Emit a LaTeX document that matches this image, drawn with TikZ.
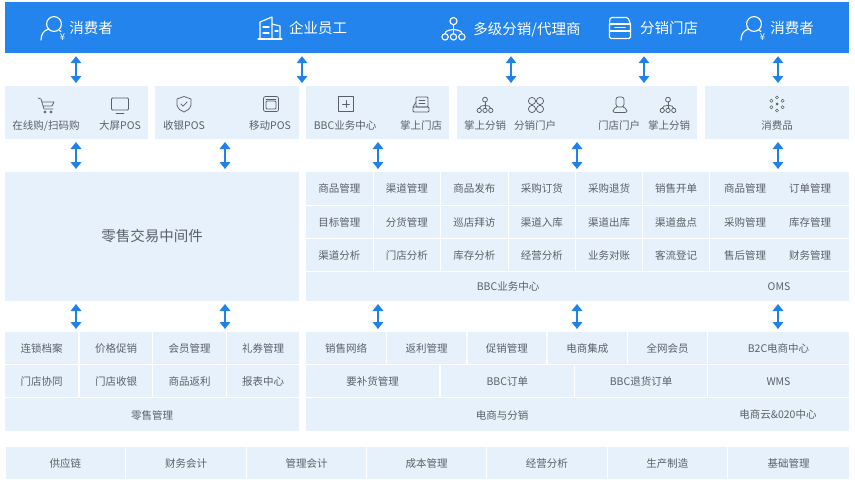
\documentclass[tikz,border=0pt]{standalone}
\usepackage{fontspec}
\setmainfont{Noto Sans CJK SC}
\usetikzlibrary{arrows.meta}
\definecolor{barblue}{HTML}{2484EE}
\definecolor{cellblue}{HTML}{E6F1FC}
\definecolor{txtgray}{HTML}{5A6069}
\definecolor{arrblue}{HTML}{1F82EC}
\tikzset{
  x=1pt,y=-1pt,
  cellbox/.style={fill=cellblue,draw=none,inner sep=0pt,outer sep=0pt,align=center,text=txtgray,font=\fontsize{10.5}{12}\selectfont,text height=9.6pt,text depth=.4pt},
  lbl/.style={inner sep=0pt,text=txtgray,font=\fontsize{10.5}{12}\selectfont,text height=9.6pt,text depth=.4pt},
  hlbl/.style={inner sep=0pt,text=white,font=\fontsize{14.5}{17}\selectfont,text height=12pt,text depth=2pt},
  biarrow/.style={line width=2.6pt,arrblue,{Triangle[length=7pt,width=10.5pt]}-{Triangle[length=7pt,width=10.5pt]},shorten >=3pt,shorten <=3pt},
  wicon/.style={draw=white,line width=1.15pt,fill=none,line cap=round,line join=round},
  gicon/.style={draw=txtgray,line width=.75pt,fill=none,line cap=round,line join=round},
}
\newcommand{\cell}[6]{\node[cellbox,minimum width={(#4-#2)*1pt},minimum height={(#5-#3)*1pt}] (#1) at ({(#2+#4)/2},{(#3+#5)/2}) {#6};}
\newcommand{\treeicon}[3]{\begin{scope}[shift={(#1,#2)},scale=#3]
  \draw (0,-7.5) circle (3.4);
  \draw (0,-4) -- (0,4.5);
  \draw (-8,4.5) .. controls (-8,1.5) and (-4,1) .. (0,0.5) .. controls (4,1) and (8,1.5) .. (8,4.5);
  \draw (-8,7.5) circle (3) (0,7.5) circle (3) (8,7.5) circle (3);
\end{scope}}
\newcommand{\personicon}[2]{\begin{scope}[shift={(#1,#2)}]
  \draw (2,-5) circle (7.4);
  \draw (-11,11) .. controls (-11,5) and (-8,1.5) .. (-3.5,0);
  \draw (7,1.2) -- (9,2.5);
  \node[inner sep=0pt,text=white,font=\fontsize{9.5}{9.5}\selectfont] at (10.5,8.5) {¥};
\end{scope}}
\begin{document}
\begin{tikzpicture}
\useasboundingbox (0,0) rectangle (855,485);
\fill[white] (0,0) rectangle (855,485);
% top bar
\node[fill=barblue,inner sep=0pt,minimum width=844pt,minimum height=51pt] (bar) at (427,27.5) {};
\node[hlbl] (h1) at (91,28) {消费者};
\node[hlbl] (h2) at (318,28) {企业员工};
\node[hlbl] (h3) at (527,29) {多级分销/代理商};
\node[hlbl] (h4) at (669,28) {分销门店};
\node[hlbl] (h5) at (792,28) {消费者};
% header icons
\begin{scope}[wicon]
  \personicon{52}{29}
  \personicon{752}{29}
  \begin{scope}[shift={(270,28)}]
    \draw (-12,11) -- (12,11);
    \draw (-10,11) -- (-10,-6) -- (2,-11) -- (2,11);
    \draw (2,-4) -- (10,-2) -- (10,11);
    \draw (-7,-1) -- (-1,-1) (-7,5) -- (-1,5) (5,3) -- (8,3);
  \end{scope}
  \treeicon{453.5}{29}{1.05}
  \begin{scope}[shift={(620,28)}]
    \draw[rounded corners=1.5pt] (-10,-10.5) -- (8,-10.5) -- (10.5,-4) -- (10.5,10.5) -- (-10.5,10.5) -- (-10.5,-4) -- cycle;
    \draw (-10.5,-4) -- (10.5,-4) (-10.5,3) -- (10.5,3);
    \draw (-5,-0.5) -- (5,-0.5);
  \end{scope}
\end{scope}
% second row
\cell{r1}{5}{86}{148}{139}{}
\cell{r2}{155}{86}{299}{139}{}
\cell{r3}{306}{86}{449}{139}{}
\cell{r4}{457}{86}{697}{139}{}
\cell{r5}{705}{86}{849}{139}{}
\node[lbl] (t1) at (46,125) {在线购/扫码购};
\node[lbl] (t2) at (120,125) {大屏POS};
\node[lbl] (t3) at (184,125) {收银POS};
\node[lbl] (t4) at (270,125) {移动POS};
\node[lbl] (t5) at (345,125) {BBC业务中心};
\node[lbl] (t6) at (421,125) {掌上门店};
\node[lbl] (t7) at (485,125) {掌上分销};
\node[lbl] (t8) at (535,125) {分销门户};
\node[lbl] (t9) at (619,125) {门店门户};
\node[lbl] (t10) at (669,125) {掌上分销};
\node[lbl] (t11) at (777,125) {消费品};
% second row icons
\begin{scope}[gicon]
  \begin{scope}[shift={(46,105)}]
    \draw (-8,-7) -- (-5,-6) -- (-2,4) -- (7,4);
    \draw (-4,-3) -- (8,-3) -- (6,1) -- (-3,1);
    \draw (-1,7) circle (1.1) (5,7) circle (1.1);
  \end{scope}
  \begin{scope}[shift={(120,105)}]
    \draw[rounded corners=1pt] (-8.5,-7) rectangle (8.5,5);
    \draw (-4,8) -- (4,8);
  \end{scope}
  \begin{scope}[shift={(184,104)}]
    \draw (0,-7.5) -- (7,-5) -- (7,1) .. controls (6,5) and (3,7) .. (0,8) .. controls (-3,7) and (-6,5) .. (-7,1) -- (-7,-5) -- cycle;
    \draw (-3,0) -- (-1,2.2) -- (3,-2);
  \end{scope}
  \begin{scope}[shift={(271,104)}]
    \draw[rounded corners=2pt] (-7.5,-7.5) rectangle (7.5,7.5);
    \draw[rounded corners=1pt] (-5,-3) rectangle (5,5);
    \draw (-5,-5) -- (5,-5);
  \end{scope}
  \begin{scope}[shift={(346,104)}]
    \draw (-7.5,-7.5) rectangle (7.5,7.5);
    \draw (-3.5,0) -- (3.5,0) (0,-3.5) -- (0,3.5);
  \end{scope}
  \begin{scope}[shift={(421,105)}]
    \draw[rounded corners=1pt] (-5,-8) rectangle (7,2);
    \draw (-2,-5) -- (4,-5) (-2,-2) -- (4,-2);
    \draw[rounded corners=1pt] (-8,2) rectangle (8,7);
    \draw (-8,2) -- (-5,-3);
  \end{scope}
  \treeicon{485}{105}{.72}
  \begin{scope}[shift={(536,105)}]
    \draw (-4,-4) circle (3.6) (4,-4) circle (3.6) (-4,4) circle (3.6) (4,4) circle (3.6);
  \end{scope}
  \begin{scope}[shift={(620,105)}]
    \draw[rounded corners=2.5pt] (-4,-8) rectangle (4,2);
    \draw[rounded corners=2pt] (-3,2) -- (-7,4) -- (-7,7.5) -- (7,7.5) -- (7,4) -- (3,2);
  \end{scope}
  \treeicon{668}{105}{.72}
  \begin{scope}[shift={(777,104)}]
    \fill[txtgray] (0,0) circle (1.5);
    \foreach \a in {30,90,150,210,270,330}{
      \draw[line width=.5pt] (\a:6.5) circle (1.6);
    }
  \end{scope}
\end{scope}
% middleware
\cell{mid}{5}{172}{299}{301}{\raisebox{-.5pt}{\fontsize{14.5}{17}\selectfont 零售交易中间件}}
% grid
\cell{g11}{306}{172}{372.5}{204.5}{商品管理}
\cell{g12}{373.5}{172}{440}{204.5}{渠道管理}
\cell{g13}{441}{172}{507.5}{204.5}{商品发布}
\cell{g14}{508.5}{172}{575}{204.5}{采购订货}
\cell{g15}{576}{172}{642}{204.5}{采购退货}
\cell{g16}{643}{172}{709}{204.5}{销售开单}
\cell{g17}{710}{172}{849}{204.5}{}
\cell{g21}{306}{205.5}{372.5}{237.5}{目标管理}
\cell{g22}{373.5}{205.5}{440}{237.5}{分货管理}
\cell{g23}{441}{205.5}{507.5}{237.5}{巡店拜访}
\cell{g24}{508.5}{205.5}{575}{237.5}{渠道入库}
\cell{g25}{576}{205.5}{642}{237.5}{渠道出库}
\cell{g26}{643}{205.5}{709}{237.5}{渠道盘点}
\cell{g27}{710}{205.5}{849}{237.5}{}
\cell{g31}{306}{238.5}{372.5}{270.5}{渠道分析}
\cell{g32}{373.5}{238.5}{440}{270.5}{门店分析}
\cell{g33}{441}{238.5}{507.5}{270.5}{库存分析}
\cell{g34}{508.5}{238.5}{575}{270.5}{经营分析}
\cell{g35}{576}{238.5}{642}{270.5}{业务对账}
\cell{g36}{643}{238.5}{709}{270.5}{客流登记}
\cell{g37}{710}{238.5}{849}{270.5}{}
\cell{g4}{306}{271.5}{849}{301}{}
\node[lbl] (l1) at (745,188.25) {商品管理};
\node[lbl] (l2) at (810,188.25) {订单管理};
\node[lbl] (l3) at (745,221.5) {采购管理};
\node[lbl] (l4) at (810,221.5) {库存管理};
\node[lbl] (l5) at (745,254.5) {售后管理};
\node[lbl] (l6) at (810,254.5) {财务管理};
\node[lbl] (l7) at (508,286) {BBC业务中心};
\node[lbl] (l8) at (779,286) {OMS};
% lower left
\cell{a1}{5}{332}{78}{364}{连锁档案}
\cell{a2}{80}{332}{152}{364}{价格促销}
\cell{a3}{153}{332}{226}{364}{会员管理}
\cell{a4}{227}{332}{299}{364}{礼券管理}
\cell{b1}{5}{365}{78}{397}{门店协同}
\cell{b2}{80}{365}{152}{397}{门店收银}
\cell{b3}{153}{365}{226}{397}{商品返利}
\cell{b4}{227}{365}{299}{397}{报表中心}
\cell{c1}{5}{398}{299}{431}{零售管理}
% lower right
\cell{d1}{306}{332}{386}{364}{销售网络}
\cell{d2}{387}{332}{466}{364}{返利管理}
\cell{d3}{467.5}{332}{546}{364}{促销管理}
\cell{d4}{547.5}{332}{627}{364}{电商集成}
\cell{d5}{628}{332}{707}{364}{全网会员}
\cell{d6}{708}{332}{849}{364}{B2C电商中心}
\cell{e1}{306}{365}{439}{397}{要补货管理}
\cell{e2}{441}{365}{573.5}{397}{BBC订单}
\cell{e3}{575}{365}{707}{397}{BBC退货订单}
\cell{e4}{708}{365}{849}{397}{WMS}
\cell{f1}{306}{398}{849}{431}{}
\node[lbl] (f2) at (502,414.5) {电商与分销};
\node[lbl] (f3) at (778,414) {电商云\&020中心};
% bottom strip
\cell{s1}{5.5}{447}{125}{479}{供应链}
\cell{s2}{126}{447}{246}{479}{财务会计}
\cell{s3}{247}{447}{366}{479}{管理会计}
\cell{s4}{367}{447}{486}{479}{成本管理}
\cell{s5}{487}{447}{606.5}{479}{经营分析}
\cell{s6}{607.5}{447}{727}{479}{生产制造}
\cell{s7}{728}{447}{849}{479}{基础管理}
% arrows
\foreach \xx/\lower in {76/r1,302/r3,511/r4,644/r4,778/r5}
  \draw[biarrow] (bar.south -| \xx,0) -- (\lower.north -| \xx,0);
\draw[biarrow] (r1.south -| 76,0) -- (mid.north -| 76,0);
\draw[biarrow] (r2.south -| 225,0) -- (mid.north -| 225,0);
\draw[biarrow] (r3.south -| 378,0) -- (g12.north -| 378,0);
\draw[biarrow] (r4.south -| 577,0) -- (g15.north -| 577,0);
\draw[biarrow] (r5.south -| 778,0) -- (g17.north -| 778,0);
\draw[biarrow] (mid.south -| 76,0) -- (a1.north -| 76,0);
\draw[biarrow] (mid.south -| 225,0) -- (a4.north -| 225,0);
\draw[biarrow] (g4.south -| 378,0) -- (d2.north -| 378,0);
\draw[biarrow] (g4.south -| 577,0) -- (d4.north -| 577,0);
\draw[biarrow] (g4.south -| 778,0) -- (d6.north -| 778,0);
\end{tikzpicture}
\end{document}
